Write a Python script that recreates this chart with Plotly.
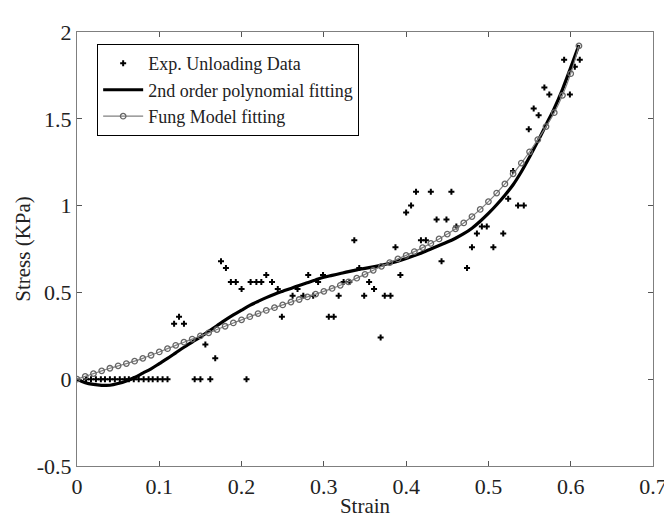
import plotly.graph_objects as go

# Experimental unloading data (strain, stress KPa)
exp_strain = [0.011, 0.017, 0.023, 0.029, 0.034, 0.040, 0.046, 0.052, 0.058, 0.063,
              0.069, 0.075, 0.081, 0.087, 0.092, 0.098, 0.104, 0.110,
              0.118, 0.124, 0.130, 0.143, 0.150, 0.156, 0.162, 0.168, 0.175, 0.181,
              0.187, 0.193, 0.200, 0.206, 0.211, 0.218, 0.224, 0.230, 0.237, 0.244,
              0.249, 0.262, 0.268, 0.275, 0.281, 0.287, 0.293, 0.299, 0.306, 0.312,
              0.318, 0.324, 0.331, 0.337, 0.343, 0.349, 0.355, 0.361, 0.369, 0.374,
              0.381, 0.387, 0.393, 0.400, 0.406, 0.412, 0.418, 0.424, 0.430, 0.437,
              0.443, 0.449, 0.455, 0.461, 0.474, 0.480, 0.486, 0.492, 0.498, 0.506,
              0.518, 0.524, 0.530, 0.536, 0.543, 0.549, 0.555, 0.561, 0.568, 0.574,
              0.592, 0.599, 0.605, 0.611]
exp_stress = [0, 0, 0, 0, 0, 0, 0, 0, 0, 0,
              0, 0, 0, 0, 0, 0, 0, 0,
              0.32, 0.36, 0.32, 0, 0, 0.20, 0, 0.12, 0.68, 0.64,
              0.56, 0.56, 0.52, 0, 0.56, 0.56, 0.56, 0.60, 0.56, 0.52,
              0.36, 0.48, 0.52, 0.48, 0.60, 0.48, 0.56, 0.60, 0.36, 0.36,
              0.48, 0.56, 0.56, 0.80, 0.64, 0.48, 0.56, 0.52, 0.24, 0.48,
              0.48, 0.76, 0.60, 0.96, 1.00, 1.08, 0.80, 0.80, 1.08, 0.92,
              0.68, 0.92, 1.08, 0.88, 0.64, 0.76, 0.84, 0.88, 0.88, 0.76,
              0.84, 1.04, 1.20, 1.00, 1.00, 1.44, 1.56, 1.52, 1.68, 1.64,
              1.84, 1.64, 1.80, 1.84]

# Fitted curves
fit_strain = [0.00, 0.01, 0.02, 0.03, 0.04, 0.05, 0.06, 0.07, 0.08, 0.09,
              0.10, 0.11, 0.12, 0.13, 0.14, 0.15, 0.16, 0.17, 0.18, 0.19,
              0.20, 0.21, 0.22, 0.23, 0.24, 0.25, 0.26, 0.27, 0.28, 0.29,
              0.30, 0.31, 0.32, 0.33, 0.34, 0.35, 0.36, 0.37, 0.38, 0.39,
              0.40, 0.41, 0.42, 0.43, 0.44, 0.45, 0.46, 0.47, 0.48, 0.49,
              0.50, 0.51, 0.52, 0.53, 0.54, 0.55, 0.56, 0.57, 0.58, 0.59,
              0.60, 0.61]
poly_stress = [0.00, -0.02, -0.03, -0.035, -0.035, -0.025, -0.01, 0.01, 0.035, 0.06,
               0.09, 0.12, 0.152, 0.184, 0.214, 0.244, 0.276, 0.308, 0.34, 0.37,
               0.398, 0.425, 0.448, 0.47, 0.49, 0.507, 0.523, 0.54, 0.556, 0.572,
               0.587, 0.598, 0.609, 0.62, 0.63, 0.638, 0.647, 0.657, 0.668, 0.68,
               0.695, 0.712, 0.73, 0.75, 0.77, 0.79, 0.812, 0.838, 0.87, 0.91,
               0.955, 1.005, 1.06, 1.12, 1.195, 1.28, 1.37, 1.465, 1.56, 1.67,
               1.795, 1.925]
fung_stress = [0.00, 0.016, 0.032, 0.048, 0.063, 0.077, 0.09, 0.104, 0.12, 0.138,
               0.157, 0.176, 0.195, 0.213, 0.231, 0.249, 0.267, 0.286, 0.305, 0.324,
               0.342, 0.36, 0.378, 0.396, 0.412, 0.428, 0.444, 0.459, 0.474, 0.49,
               0.506, 0.523, 0.541, 0.561, 0.582, 0.604, 0.627, 0.65, 0.672, 0.693,
               0.713, 0.735, 0.758, 0.782, 0.808, 0.836, 0.866, 0.90, 0.937, 0.978,
               1.023, 1.072, 1.125, 1.183, 1.245, 1.31, 1.38, 1.455, 1.535, 1.635,
               1.76, 1.92]

y_ticks = [-0.5, 0, 0.5, 1, 1.5, 2]
y_labels = ["-0.5", "0", "0.5", "1", "1.5", "2"]
x_ticks = [0, 0.1, 0.2, 0.3, 0.4, 0.5, 0.6, 0.7]
x_labels = ["0", "0.1", "0.2", "0.3", "0.4", "0.5", "0.6", "0.7"]

FONT = "Liberation Serif"

fig = go.Figure()
fig.add_trace(go.Scatter(
    x=exp_strain, y=exp_stress, mode="markers", name="Exp. Unloading Data",
    marker=dict(symbol="cross", size=5, color="black", line=dict(width=0)),
))
fig.add_trace(go.Scatter(
    x=fit_strain, y=poly_stress, mode="lines", name="2nd order polynomial fitting",
    line=dict(color="black", width=3.2, shape="spline"),
))
fig.add_trace(go.Scatter(
    x=fit_strain, y=fung_stress, mode="lines+markers", name="Fung Model fitting",
    line=dict(color="#808080", width=1.2, shape="spline"),
    marker=dict(symbol="circle-open", size=5.5, color="#666666", line=dict(width=1.3)),
))

axis_common = dict(
    showline=True, linecolor="#7f7f7f", linewidth=1.2, mirror="ticks",
    ticks="inside", ticklen=5, tickcolor="#555555", showgrid=False, zeroline=False,
    tickfont=dict(family=FONT, size=22, color="#222222"),
)

fig.update_layout(
    width=672, height=517,
    margin=dict(l=69, r=27, t=19, b=50),
    paper_bgcolor="white", plot_bgcolor="white",
    font=dict(family=FONT, color="#222222"),
    xaxis=dict(range=[0, 0.7], tickvals=x_ticks, ticktext=x_labels,
               title=dict(text="Strain", font=dict(family=FONT, size=21), standoff=0),
               **axis_common),
    yaxis=dict(range=[-0.5, 2], tickvals=y_ticks, ticktext=y_labels,
               title=dict(text="Stress (KPa)", font=dict(family=FONT, size=21), standoff=0),
               **axis_common),
    legend=dict(x=0.035, y=0.972, xanchor="left", yanchor="top",
                bgcolor="white", bordercolor="black", borderwidth=1,
                font=dict(family=FONT, size=18, color="#222222"),
                itemwidth=40, tracegroupgap=0),
    showlegend=True,
)

fig.write_html("out.html")
